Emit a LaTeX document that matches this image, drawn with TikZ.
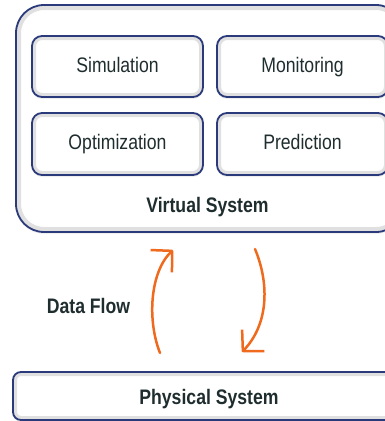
\documentclass[tikz,border=0pt]{standalone}
\usepackage{fontspec}
\setmainfont[FakeStretch=0.84]{Liberation Sans}
\usetikzlibrary{arrows.meta,shadows,positioning}
\definecolor{navy}{HTML}{2B3A7A}
\definecolor{ink}{HTML}{1F2D2F}
\definecolor{flow}{HTML}{F06A1E}

\begin{document}
\begin{tikzpicture}[x=1pt,y=-1pt,
  box/.style={draw=navy,line width=1.8pt,fill=white,rounded corners=10pt,
    text=ink,font=\fontsize{21}{24}\selectfont,text height=15pt,text depth=4pt,
    drop shadow={opacity=0.12,shadow xshift=0pt,shadow yshift=-2pt},
    path picture={\draw[black!12,line width=8pt,rounded corners=10pt]
      (path picture bounding box.south west) rectangle (path picture bounding box.north east);}},
  bigbox/.style={box,rounded corners=28pt,
    path picture={\draw[black!12,line width=10pt,rounded corners=28pt]
      (path picture bounding box.south west) rectangle (path picture bounding box.north east);}},
  flowarrow/.style={draw=flow,line width=2.5pt,line cap=round,line join=round,
    -{Straight Barb[length=15pt,width=31pt,line width=2.5pt,line join=round]}},
  lbl/.style={text=ink,font=\fontsize{21}{24}\selectfont\bfseries,anchor=base}]
  \useasboundingbox (0,0) rectangle (385,421);
  \clip (0,0) rectangle (385,421);

  \node[bigbox,minimum width=388pt,minimum height=227pt] (virtual) at (210,118.5) {} ; % Virtual system frame
  \node[box,minimum width=171pt,minimum height=61pt] (sim) at (117.5,66.5) {Simulation} ;
  \node[box,minimum width=171pt,minimum height=61pt] (mon) at (302.5,66.5) {Monitoring} ;
  \node[box,minimum width=171pt,minimum height=62pt] (opt) at (117.5,144) {Optimization} ;
  \node[box,minimum width=171pt,minimum height=62pt] (pred) at (302.5,144) {Prediction} ;
  \node[lbl] (vlabel) at (207.5,212) {Virtual System} ;

  \node[box,rounded corners=8pt,minimum width=392pt,minimum height=48pt,
    path picture={\draw[black!12,line width=8pt,rounded corners=8pt]
      (path picture bounding box.south west) rectangle (path picture bounding box.north east);}] (physical) at (209,396) {} ; % Physical system
  \node[lbl] (plabel) at (209,404) {Physical System} ;

  \node[lbl] (flowlabel) at (88.5,313) {Data Flow} ;

  \coordinate (upstart) at (160,353) ;
  \coordinate (upend) at (173,250) ;
  \coordinate (downstart) at (255,249) ;
  \coordinate (downend) at (242,352) ;
  \draw[flowarrow] (upstart) .. controls (147,320) and (150,272) .. (upend) ;     % physical to virtual
  \draw[flowarrow] (downstart) .. controls (270,285) and (268,325) .. (downend) ; % virtual to physical
\end{tikzpicture}
\end{document}
